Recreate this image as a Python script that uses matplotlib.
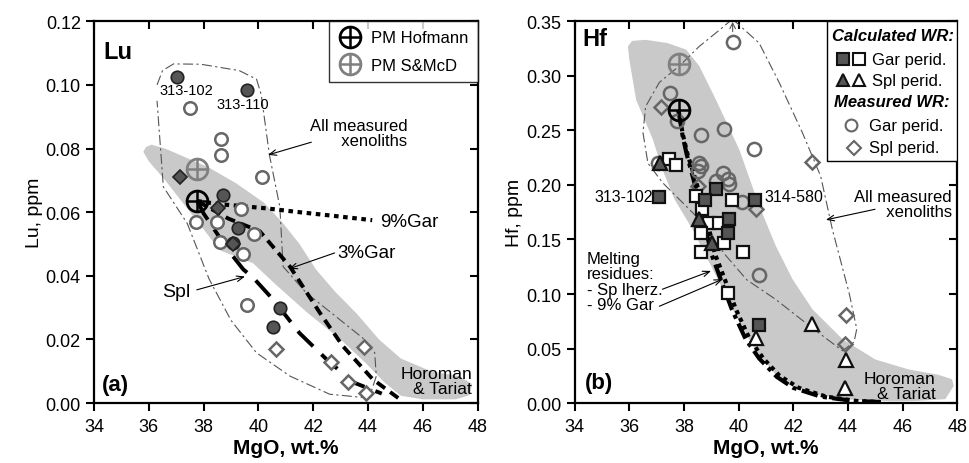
import matplotlib.pyplot as plt
from matplotlib.legend_handler import HandlerTuple
from matplotlib.lines import Line2D
from matplotlib.patches import Polygon, Rectangle

plt.rcParams['font.family'] = ['Liberation Sans', 'DejaVu Sans']

# ---------------- panel (a): Lu ----------------
lu_gar_calc_x = [37.04, 39.57, 38.70, 39.27, 39.08, 40.78, 40.54]
lu_gar_calc_y = [0.1025, 0.0984, 0.0653, 0.0549, 0.0502, 0.0299, 0.0240]
lu_spl_calc_x = [37.12, 38.52, 39.06]
lu_spl_calc_y = [0.0710, 0.0613, 0.0499]
lu_gar_meas_x = [37.51, 38.62, 38.62, 40.14, 39.36, 37.73, 38.48, 39.84, 38.60, 39.45, 39.59]
lu_gar_meas_y = [0.0926, 0.0830, 0.0780, 0.0710, 0.0609, 0.0568, 0.0568, 0.0531, 0.0507, 0.0469, 0.0307]
lu_spl_meas_x = [40.64, 42.66, 43.27, 43.84, 43.91]
lu_spl_meas_y = [0.0171, 0.0129, 0.0068, 0.0176, 0.0033]
lu_pm_hof = (37.77, 0.0635)
lu_pm_smcd = (37.77, 0.0737)

lu_gar9_x = [37.77, 38.6, 39.3, 40.3, 41.5, 42.8, 44.15]
lu_gar9_y = [0.0635, 0.0625, 0.0620, 0.0612, 0.0600, 0.0588, 0.0575]
lu_gar3_x = [37.77, 38.9, 40.05, 41.15, 42.24, 43.08, 44.17, 45.15]
lu_gar3_y = [0.0635, 0.0580, 0.0540, 0.0429, 0.0284, 0.0179, 0.0075, 0.0013]
lu_spl_x = [37.77, 38.0, 38.9, 39.45, 39.8, 40.54, 41.5, 42.48, 43.44, 44.5]
lu_spl_y = [0.0635, 0.0596, 0.0480, 0.0420, 0.0395, 0.0325, 0.0220, 0.0138, 0.0066, 0.0030]

lu_band_x = [35.8, 35.9, 36.1, 36.6, 37.4, 38.2, 39.2, 40.2, 40.9, 41.5, 42.1, 42.8, 43.6,
             44.4, 45.2, 46.3, 47.3, 47.8, 47.7, 47.2, 46.0, 45.2, 44.6, 43.9, 43.0, 41.8,
             40.6, 39.8, 38.6, 37.6, 36.6, 36.0]
lu_band_y = [0.0790, 0.0805, 0.0812, 0.0800, 0.0770, 0.0740, 0.0690, 0.0630, 0.0565, 0.0500,
             0.0420, 0.0350, 0.0280, 0.0200, 0.0140, 0.0100, 0.0085, 0.0060, 0.0025, 0.0012,
             0.0012, 0.0023, 0.0065, 0.0127, 0.0200, 0.0283, 0.0375, 0.0440, 0.0480, 0.0590,
             0.0700, 0.0760]
lu_env_x = [36.3, 36.5, 36.9, 37.9, 39.3, 39.93, 40.1, 40.4, 40.78, 40.9, 41.75, 42.96, 43.8,
            44.24, 44.3, 44.1, 43.8, 42.6, 41.15, 39.93, 39.0, 38.2, 37.4, 36.53, 36.3]
lu_env_y = [0.1000, 0.1045, 0.1066, 0.1065, 0.1045, 0.1018, 0.0970, 0.0780, 0.0617, 0.0429,
            0.0346, 0.0263, 0.0205, 0.0159, 0.0085, 0.0033, 0.0018, 0.0028, 0.0085, 0.0158,
            0.0260, 0.0390, 0.0565, 0.0680, 0.0950]

# ---------------- panel (b): Hf ----------------
hf_gar_calc_x = [37.10, 40.60, 39.17, 38.78, 39.66, 39.60, 40.75]
hf_gar_calc_y = [0.189, 0.186, 0.1966, 0.1862, 0.1685, 0.1563, 0.0714]
hf_gar_open_x = [37.47, 37.71, 38.44, 39.74, 38.66, 38.90, 39.29, 38.62, 39.46, 38.62, 40.16, 39.60]
hf_gar_open_y = [0.2234, 0.218, 0.1898, 0.186, 0.178, 0.1655, 0.165, 0.1563, 0.147, 0.1386, 0.1386, 0.1007]
hf_spl_calc_x = [37.13, 38.54, 39.02]
hf_spl_calc_y = [0.2204, 0.169, 0.147]
hf_spl_open_x = [40.63, 42.70, 43.94, 43.89]
hf_spl_open_y = [0.0601, 0.0723, 0.0394, 0.0135]
hf_gar_meas_x = [39.78, 37.50, 37.73, 38.62, 39.45, 40.57, 38.62, 38.50, 39.41, 39.60, 39.17,
                 39.66, 40.14, 40.75, 37.04, 38.56]
hf_gar_meas_y = [0.331, 0.2845, 0.2585, 0.2454, 0.251, 0.2332, 0.2173, 0.2127, 0.2113, 0.205,
                 0.2036, 0.2005, 0.184, 0.117, 0.2204, 0.220]
hf_spl_meas_x = [37.16, 38.52, 40.63, 42.70, 43.94, 43.89]
hf_spl_meas_y = [0.2713, 0.199, 0.1777, 0.2213, 0.0806, 0.054]
hf_pm_hof = (37.8, 0.2683)
hf_pm_smcd = (37.8, 0.3104)

hf_splz_x = [37.8, 37.95, 38.1, 38.35, 38.7, 39.0, 39.35, 39.75, 40.25, 40.75, 41.4, 42.0, 43.0, 44.2, 45.2]
hf_splz_y = [0.268, 0.245, 0.228, 0.205, 0.170, 0.137, 0.113, 0.086, 0.059, 0.041, 0.024, 0.014, 0.006, 0.002, 0.001]
hf_gar9_x = [37.8, 37.97, 38.13, 38.42, 38.82, 39.13, 39.5, 39.9, 40.4, 40.9, 41.5, 42.2, 43.2, 44.3, 45.2]
hf_gar9_y = [0.268, 0.245, 0.228, 0.205, 0.170, 0.137, 0.113, 0.086, 0.059, 0.041, 0.025, 0.014, 0.006, 0.002, 0.001]

hf_band_x = [35.95, 36.1, 36.6, 37.4, 38.08, 38.56, 39.17, 40.02, 40.75, 41.36, 41.97, 42.7, 43.8,
             45.0, 46.2, 47.3, 47.8, 47.87, 47.56, 46.5, 45.6, 44.2, 42.8, 41.48, 40.51, 39.78,
             39.3, 38.8, 38.32, 37.65, 37.2, 36.86, 36.25, 36.0]
hf_band_y = [0.327, 0.332, 0.333, 0.330, 0.324, 0.309, 0.278, 0.2326, 0.181, 0.144, 0.1136, 0.086,
             0.0586, 0.040, 0.031, 0.026, 0.022, 0.0159, 0.0037, 0.002, 0.0018, 0.003, 0.008, 0.022,
             0.0525, 0.086, 0.1105, 0.135, 0.159, 0.187, 0.215, 0.2418, 0.278, 0.315]
hf_env_x = [39.77, 40.0, 40.75, 41.48, 42.33, 43.0, 43.43, 44.04, 44.32, 44.22, 43.8, 42.58,
            41.36, 40.3, 39.54, 38.44, 37.22, 36.68, 36.5, 36.6, 37.1, 37.83, 38.56, 39.3, 39.77]
hf_env_y = [0.352, 0.347, 0.330, 0.294, 0.248, 0.208, 0.159, 0.101, 0.068, 0.056, 0.048, 0.071,
            0.095, 0.113, 0.135, 0.1715, 0.202, 0.220, 0.248, 0.272, 0.294, 0.309, 0.327, 0.342, 0.352]

xticks = [34, 36, 38, 40, 42, 44, 46, 48]
lu_yticks = [0.00, 0.02, 0.04, 0.06, 0.08, 0.10, 0.12]
hf_yticks = [0.00, 0.05, 0.10, 0.15, 0.20, 0.25, 0.30, 0.35]

DARK = '#555555'
MEAS = '#666666'
BAND = '#c9c9c9'
ENV = '#555555'
ENV_LS = (0, (9, 3, 2, 3))
arr = dict(arrowstyle='->,head_length=0.5,head_width=0.2', lw=0.8, color='black',
           shrinkA=0, shrinkB=0)

fig = plt.figure(figsize=(9.69, 4.64), dpi=100)
axa = fig.add_axes([0.097, 0.129, 0.396, 0.823])
axb = fig.add_axes([0.593, 0.129, 0.395, 0.823])


def frame(ax, yticks, fmt):
    ax.set_xlim(34, 48)
    ax.set_ylim(yticks[0], yticks[-1])
    ax.set_xticks(xticks)
    ax.set_yticks(yticks)
    ax.set_yticklabels([fmt.format(v) for v in yticks])
    ax.tick_params(direction='out', length=6, width=1.5, labelsize=13, colors='black')
    ax.tick_params(axis='x', pad=5)
    for s in ax.spines.values():
        s.set_linewidth(1.6)
    top = ax.secondary_xaxis('top')
    top.set_xticks(xticks)
    top.tick_params(direction='in', length=6, width=1.5, labeltop=False)
    top.spines['top'].set_visible(False)
    right = ax.secondary_yaxis('right')
    right.set_yticks(yticks)
    right.tick_params(direction='in', length=6, width=1.5, labelright=False)
    right.spines['right'].set_visible(False)
    ax.set_xlabel('MgO, wt.%', fontsize=15, fontweight='bold', labelpad=2)


def pm_markers(ax, pos, color):
    h1, = ax.plot(pos[0], pos[1], 'o', ms=15, mfc='none', mec=color, mew=2, zorder=6)
    h2, = ax.plot(pos[0], pos[1], '+', ms=15, mec=color, mew=1.8, zorder=6)
    return (h1, h2)


# ---------- (a) ----------
ax = axa
ax.add_patch(Polygon(list(zip(lu_band_x, lu_band_y)), closed=True, fc=BAND, ec='none', zorder=1))
ax.plot(lu_env_x, lu_env_y, color=ENV, lw=0.8, ls=ENV_LS, zorder=2)
ax.plot(lu_gar9_x, lu_gar9_y, color='black', lw=3, ls=(0, (1.1, 1.1)), zorder=3)
ax.plot(lu_gar3_x, lu_gar3_y, color='black', lw=2.8, ls=(0, (2.6, 1.6)), zorder=3)
ax.plot(lu_spl_x, lu_spl_y, color='black', lw=2.8, ls=(0, (5.5, 3)), zorder=3)
ax.plot(lu_gar_meas_x, lu_gar_meas_y, 'o', ms=9, mfc='white', mec=MEAS, mew=1.8, zorder=4)
ax.plot(lu_spl_meas_x, lu_spl_meas_y, 'D', ms=7, mfc='white', mec=MEAS, mew=1.8, zorder=4)
ax.plot(lu_gar_calc_x, lu_gar_calc_y, 'o', ms=9, mfc=DARK, mec='#222222', mew=1.2, zorder=5)
ax.plot(lu_spl_calc_x, lu_spl_calc_y, 'D', ms=7, mfc=DARK, mec='#222222', mew=1.2, zorder=5)
ha = pm_markers(ax, lu_pm_hof, 'black')
hb = pm_markers(ax, lu_pm_smcd, '#808080')
frame(ax, lu_yticks, '{:.2f}')
ax.set_ylabel('Lu, ppm', fontsize=14, labelpad=2)
leg = ax.legend([ha, hb], ['PM Hofmann', 'PM S&McD'], handler_map={tuple: HandlerTuple(ndivide=1)},
                loc='upper right', fontsize=12, frameon=True, fancybox=False, edgecolor='black',
                borderaxespad=0, handlelength=1.4, handletextpad=0.6, labelspacing=0.75,
                borderpad=0.55)
leg.get_frame().set_linewidth(1.0)
leg.set_zorder(10)

ax.text(34.35, 0.1106, 'Lu', fontsize=17, fontweight='bold', va='center')
ax.text(37.37, 0.0984, '313-102', fontsize=10.5, ha='center', va='center')
ax.text(39.44, 0.0940, '313-110', fontsize=10.5, ha='center', va='center')
ax.text(45.44, 0.0850, 'All measured\n  xenoliths', fontsize=12, ha='right', va='center', linespacing=1.0)
ax.annotate('', xy=(40.35, 0.0780), xytext=(41.93, 0.0820), arrowprops=arr)
ax.text(44.45, 0.0572, '9%Gar', fontsize=13.5, ha='left', va='center')
ax.text(42.89, 0.0472, '3%Gar', fontsize=13.5, ha='left', va='center')
ax.annotate('', xy=(41.11, 0.0422), xytext=(42.78, 0.0472), arrowprops=arr)
ax.text(37.51, 0.0350, 'Spl', fontsize=14, ha='right', va='center')
ax.annotate('', xy=(39.51, 0.0398), xytext=(37.75, 0.0356), arrowprops=arr)
ax.text(34.3, 0.0059, '(a)', fontsize=16, fontweight='bold', va='center')
ax.text(47.8, 0.0070, 'Horoman\n& Tariat', fontsize=12.5, ha='right', va='center', linespacing=1.0)

# ---------- (b) ----------
ax = axb
ax.add_patch(Polygon(list(zip(hf_band_x, hf_band_y)), closed=True, fc=BAND, ec='none', zorder=1))
ax.plot(hf_env_x, hf_env_y, color=ENV, lw=0.8, ls=ENV_LS, zorder=2, clip_on=True)
ax.annotate('', xy=(39.78, 0.352), xytext=(39.78, 0.338),
            arrowprops=dict(arrowstyle='->,head_length=0.4,head_width=0.2', lw=0.8, color=ENV),
            annotation_clip=False)
ax.plot(hf_splz_x, hf_splz_y, color='black', lw=3, ls=(0, (4, 1.3, 1, 1.3)), zorder=3)
ax.plot(hf_gar9_x, hf_gar9_y, color='black', lw=3, ls=(0, (1, 1)), zorder=3)
ax.plot(hf_gar_meas_x, hf_gar_meas_y, 'o', ms=9.5, mfc='none', mec=MEAS, mew=1.8, zorder=4)
ax.plot(hf_spl_meas_x, hf_spl_meas_y, 'D', ms=7.5, mfc='none', mec=MEAS, mew=1.8, zorder=4)
ax.plot(hf_gar_open_x, hf_gar_open_y, 's', ms=9, mfc='white', mec='#111111', mew=1.6, zorder=5)
ax.plot(hf_gar_calc_x, hf_gar_calc_y, 's', ms=9, mfc=DARK, mec='#111111', mew=1.6, zorder=5)
ax.plot(hf_spl_open_x, hf_spl_open_y, '^', ms=10, mfc='white', mec='#111111', mew=1.6, zorder=5)
ax.plot(hf_spl_calc_x, hf_spl_calc_y, '^', ms=10, mfc=DARK, mec='#111111', mew=1.6, zorder=5)
pm_markers(ax, hf_pm_hof, 'black')
pm_markers(ax, hf_pm_smcd, '#808080')
frame(ax, hf_yticks, '{:.2f}')
ax.set_ylabel('Hf, ppm', fontsize=14, labelpad=2)

ax.text(34.3, 0.334, 'Hf', fontsize=17, fontweight='bold', va='center')
ax.text(36.85, 0.1893, '313-102', fontsize=11.5, ha='right', va='center')
ax.text(40.95, 0.1893, '314-580', fontsize=11.5, ha='left', va='center')
ax.text(47.8, 0.1827, 'All measured\n  xenoliths', fontsize=12, ha='right', va='center', linespacing=1.0)
ax.annotate('', xy=(43.19, 0.168), xytext=(44.99, 0.1777), arrowprops=arr)
ax.text(34.44, 0.1115, 'Melting\nresidues:\n- Sp lherz.\n- 9% Gar', fontsize=12,
        ha='left', va='center', linespacing=1.05)
ax.annotate('', xy=(38.99, 0.1212), xytext=(37.21, 0.1044), arrowprops=arr)
ax.annotate('', xy=(39.41, 0.1136), xytext=(37.1, 0.0888), arrowprops=arr)
ax.text(34.36, 0.0192, '(b)', fontsize=16, fontweight='bold', va='center')
ax.text(47.2, 0.0160, 'Horoman\n& Tariat', fontsize=12.5, ha='right', va='center', linespacing=1.0)

# custom legend (b), drawn in axes fraction
T = ax.transAxes
ax.add_patch(Rectangle((0.66, 0.634), 0.34, 0.366, transform=T, fc='white', ec='black', lw=1.0, zorder=9))
ax.text(0.673, 0.963, 'Calculated WR:', transform=T, fontsize=12, fontweight='bold', style='italic',
        va='center', zorder=10)
ax.text(0.677, 0.79, 'Measured WR:', transform=T, fontsize=12, fontweight='bold', style='italic',
        va='center', zorder=10)
legend_rows = [
    (0.900, [('s', DARK, '#111111', 0.701), ('s', 'white', '#111111', 0.742)], 'Gar perid.', 0.777),
    (0.846, [('^', DARK, '#111111', 0.701), ('^', 'white', '#111111', 0.742)], 'Spl perid.', 0.777),
    (0.728, [('o', 'white', MEAS, 0.722)], 'Gar perid.', 0.770),
    (0.669, [('D', 'white', MEAS, 0.731)], 'Spl perid.', 0.770),
]
for yy, marks, lab, tx in legend_rows:
    for m, fc, ec, mx in marks:
        ax.add_line(Line2D([mx], [yy], transform=T, marker=m, ms=8.5 if m != 'D' else 7,
                           mfc=fc, mec=ec, mew=1.5, ls='none', zorder=10))
    ax.text(tx, yy, lab, transform=T, fontsize=12, va='center', zorder=10)

fig.savefig('out.png', dpi=100)
